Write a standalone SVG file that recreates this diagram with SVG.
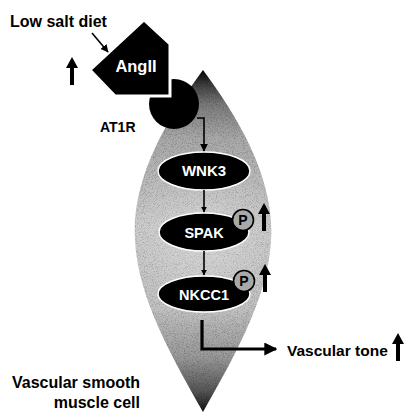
<svg xmlns="http://www.w3.org/2000/svg" width="411" height="412" viewBox="0 0 411 412">
<style>
.lbl{font-family:"Liberation Sans",Arial,sans-serif;font-weight:bold;fill:#000}
.wt{font-family:"Liberation Sans",Arial,sans-serif;font-weight:bold;fill:#fff;text-anchor:middle}
.node{fill:#000;stroke:#fff;stroke-width:1.5}
.thin{fill:none;stroke:#000;stroke-width:1.6}
.thick{fill:none;stroke:#000;stroke-width:3.2}
.pc{fill:#a8a8a8;stroke:#000;stroke-width:1.6}
.pt{font-family:"Liberation Sans",Arial,sans-serif;font-weight:bold;fill:#000;text-anchor:middle;font-size:14px}
</style>
<defs>
<linearGradient id="cellg" gradientUnits="userSpaceOnUse" x1="0" y1="70" x2="0" y2="412">
<stop offset="0" stop-color="#000"/>
<stop offset="0.04" stop-color="#3a3a3a"/>
<stop offset="0.1" stop-color="#7a7a7a"/>
<stop offset="0.2" stop-color="#aaa"/>
<stop offset="0.45" stop-color="#c8c8c8"/>
<stop offset="0.7" stop-color="#c0c0c0"/>
<stop offset="0.84" stop-color="#999"/>
<stop offset="0.94" stop-color="#555"/>
<stop offset="1" stop-color="#111"/>
</linearGradient>
<radialGradient id="hl" gradientUnits="userSpaceOnUse" cx="204" cy="240" r="90">
<stop offset="0" stop-color="#fff" stop-opacity="0.3"/>
<stop offset="1" stop-color="#fff" stop-opacity="0"/>
</radialGradient>
<filter id="grain" x="0" y="0" width="100%" height="100%">
<feTurbulence type="fractalNoise" baseFrequency="1.1" numOctaves="2" seed="5" result="t"/>
<feColorMatrix in="t" type="matrix" values="0 0 0 0 0  0 0 0 0 0  0 0 0 0 0  -2.6 0 0 0 1.45" result="a"/>
<feComposite in="a" in2="SourceGraphic" operator="in" result="spots"/>
<feComponentTransfer in="spots" result="spots2"><feFuncA type="linear" slope="0.45"/></feComponentTransfer>
<feMerge><feMergeNode in="SourceGraphic"/><feMergeNode in="spots2"/></feMerge>
</filter>
<marker id="ah" viewBox="0 0 10 10" refX="9" refY="5" markerWidth="6" markerHeight="6" orient="auto" markerUnits="userSpaceOnUse">
<path d="M0,0 L10,5 L0,10 Z" fill="#000"/>
</marker>
<marker id="ahs" viewBox="0 0 10 10" refX="9" refY="5" markerWidth="8" markerHeight="8" orient="auto" markerUnits="userSpaceOnUse">
<path d="M0,0 L10,5 L0,10 Z" fill="#000"/>
</marker>
<marker id="ahb" viewBox="0 0 10 10" refX="9" refY="5" markerWidth="13" markerHeight="13" orient="auto" markerUnits="userSpaceOnUse">
<path d="M0,0 L10,5 L0,10 Z" fill="#000"/>
</marker>
<path id="up" d="M0,0 L6,11 L2,11 L2,28 L-2,28 L-2,11 L-6,11 Z" fill="#000"/>
</defs>

<g id="cell">
<path d="M203,70 C240,120 275,180 271,240 C268,300 232,360 203,412 C174,360 138,300 135,240 C131,180 166,120 203,70 Z" fill="url(#cellg)" filter="url(#grain)"/>
<path d="M203,70 C240,120 275,180 271,240 C268,300 232,360 203,412 C174,360 138,300 135,240 C131,180 166,120 203,70 Z" fill="url(#hl)"/>
</g>

<g id="at1r">
<circle cx="174" cy="104" r="25" fill="#000"/>
<text class="lbl" x="100" y="132" font-size="14">AT1R</text>
</g>

<g id="angII">
<polygon points="144,20 170,44 170,96 115,96 90,70" fill="#000" stroke="#fff" stroke-width="3" stroke-linejoin="miter"/>
<text class="wt" x="136" y="72" font-size="16.5">AngII</text>
</g>

<g id="wnk3">
<ellipse class="node" cx="204" cy="171" rx="46" ry="19"/>
<text class="wt" x="204" y="176" font-size="15">WNK3</text>
</g>

<g id="spak">
<ellipse class="node" cx="204" cy="232" rx="45" ry="19"/>
<text class="wt" x="204" y="237.5" font-size="14.5">SPAK</text>
<circle class="pc" cx="243" cy="220" r="10.5"/>
<text class="pt" x="243" y="225">P</text>
<use href="#up" x="264" y="203"/>
</g>

<g id="nkcc1">
<ellipse class="node" cx="204" cy="294" rx="46" ry="18"/>
<text class="wt" x="204" y="299.5" font-size="14.5">NKCC1</text>
<circle class="pc" cx="244" cy="281" r="10.5"/>
<text class="pt" x="244" y="286">P</text>
<use href="#up" x="265" y="264"/>
</g>

<g id="labels">
<text class="lbl" x="10" y="27" font-size="16">Low salt diet</text>
<use href="#up" x="72" y="57"/>
<text class="lbl" x="287" y="356" font-size="15.5">Vascular tone</text>
<use href="#up" x="398" y="333"/>
<text class="lbl" x="12" y="388" font-size="16">Vascular smooth</text>
<text class="lbl" x="140" y="408" font-size="16" text-anchor="end">muscle cell</text>
</g>

<g id="connectors">
<line class="thin" x1="92" y1="33" x2="108" y2="52" marker-end="url(#ahs)"/>
<polyline class="thin" points="197,118 204,118 204,151" marker-end="url(#ahs)"/>
<line class="thin" x1="204" y1="190" x2="204" y2="212" marker-end="url(#ah)"/>
<line class="thin" x1="204" y1="251" x2="204" y2="275" marker-end="url(#ah)"/>
<polyline class="thick" points="202,320 202,349 276,349" marker-end="url(#ahb)" stroke-linejoin="miter"/>
</g>
</svg>
